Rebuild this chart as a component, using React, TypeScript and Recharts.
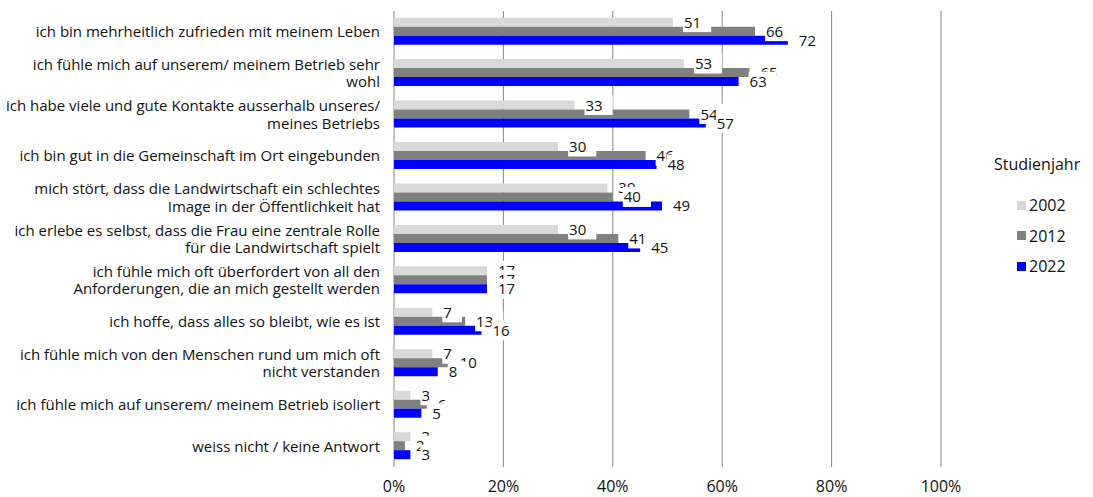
import React from "react";
import { BarChart, Bar, XAxis, YAxis, CartesianGrid, LabelList } from "recharts";

// Kategorien (Aussagen), Zeilenumbrüche wie im Original
const categories = [
  "ich bin mehrheitlich zufrieden mit meinem Leben",
  "ich fühle mich auf unserem/ meinem Betrieb sehr\nwohl",
  "ich habe viele und gute Kontakte ausserhalb unseres/\nmeines Betriebs",
  "ich bin gut in die Gemeinschaft im Ort eingebunden",
  "mich stört, dass die Landwirtschaft ein schlechtes\nImage in der Öffentlichkeit hat",
  "ich erlebe es selbst, dass die Frau eine zentrale Rolle\nfür die Landwirtschaft spielt",
  "ich fühle mich oft überfordert von all den\nAnforderungen, die an mich gestellt werden",
  "ich hoffe, dass alles so bleibt, wie es ist",
  "ich fühle mich von den Menschen rund um mich oft\nnicht verstanden",
  "ich fühle mich auf unserem/ meinem Betrieb isoliert",
  "weiss nicht / keine Antwort",
];

const values2002 = [51, 53, 33, 30, 39, 30, 17, 7, 7, 3, 3];
const values2012 = [66, 65, 54, 46, 40, 41, 17, 13, 10, 6, 2];
const values2022 = [72, 63, 57, 48, 49, 45, 17, 16, 8, 5, 3];

const xTicks = [0, 20, 40, 60, 80, 100];
const edgeTicks = [0, 1, 2, 3, 4, 5, 6, 7, 8, 9, 10, 11];

const series = [
  { key: "y2002", name: "2002", color: "#D9D9D9" },
  { key: "y2012", name: "2012", color: "#808080" },
  { key: "y2022", name: "2022", color: "#0000FF" },
];

const data = categories.map((name, i) => ({
  name,
  y2002: values2002[i],
  y2012: values2012[i],
  y2022: values2022[i],
}));

const FONT = "'Open Sans', sans-serif";
const TEXT = "#111111";
const GRID = "#868686";

const ValueLabel = (props: any) => {
  const { x, y, width, height, value } = props;
  const text = String(value);
  const left = x + width + 10;
  const cy = y + height / 2;
  const w = text.length * 8.6 + 11;
  return (
    <g>
      <rect x={left} y={cy - 10} width={w} height={20} fill="#ffffff" />
      <text x={left + 1} y={cy + 5.5} fontSize={15} fill={TEXT} fontFamily={FONT}>
        {text}
      </text>
    </g>
  );
};

const CategoryTick = (props: any) => {
  const { y, payload } = props;
  const lines = String(payload.value).split("\n");
  const lh = 17.5;
  const start = y - ((lines.length - 1) * lh) / 2;
  return (
    <text textAnchor="end" fontSize={15} fill={TEXT} fontFamily={FONT}>
      {lines.map((l, i) => (
        <tspan key={i} x={380} y={start + i * lh} dy="0.35em">
          {l}
        </tspan>
      ))}
    </text>
  );
};

export default function App() {
  return (
    <div style={{ position: "absolute", left: 0, top: 0, width: 1093, height: 497, background: "#fff" }}>
      <BarChart
        width={1093}
        height={497}
        data={data}
        layout="vertical"
        margin={{ top: 11, right: 152, bottom: 0, left: 0 }}
        barCategoryGap="16%"
        barGap={0}
      >
        <CartesianGrid horizontal={false} stroke={GRID} />
        <XAxis
          type="number"
          domain={[0, 100]}
          ticks={xTicks}
          tickFormatter={(v: number) => `${v}%`}
          axisLine={false}
          tickLine={false}
          tickSize={0}
          tickMargin={14}
          height={30}
          tick={{ fontSize: 16, fill: TEXT, fontFamily: FONT }}
        />
        <XAxis
          xAxisId="top"
          orientation="top"
          type="number"
          domain={[0, 100]}
          ticks={xTicks}
          tickFormatter={() => ""}
          height={0}
          tickSize={5}
          axisLine={{ stroke: GRID }}
          tickLine={{ stroke: GRID }}
        />
        <YAxis
          type="category"
          dataKey="name"
          width={394}
          interval={0}
          axisLine={false}
          tickLine={false}
          tick={<CategoryTick />}
        />
        <YAxis
          yAxisId="edges"
          type="number"
          domain={[0, 11]}
          ticks={edgeTicks}
          width={0}
          tickSize={6}
          tickFormatter={() => ""}
          axisLine={{ stroke: GRID }}
          tickLine={{ stroke: GRID }}
        />
        {series.map((s) => (
          <Bar key={s.key} dataKey={s.key} name={s.name} fill={s.color} isAnimationActive={false}>
            <LabelList dataKey={s.key} content={<ValueLabel />} />
          </Bar>
        ))}
      </BarChart>
      <div
        style={{
          position: "absolute",
          left: 994,
          top: 153,
          fontFamily: FONT,
          fontSize: 16,
          color: TEXT,
          lineHeight: "22px",
        }}
      >
        Studienjahr
      </div>
      {series.map((s, i) => (
        <div
          key={s.key}
          style={{
            position: "absolute",
            left: 1017,
            top: 194 + i * 30.5,
            display: "flex",
            alignItems: "center",
            fontFamily: FONT,
            fontSize: 16,
            color: TEXT,
            lineHeight: "22px",
          }}
        >
          <span style={{ display: "inline-block", width: 9, height: 9, background: s.color, marginRight: 3 }} />
          {s.name}
        </div>
      ))}
    </div>
  );
}
